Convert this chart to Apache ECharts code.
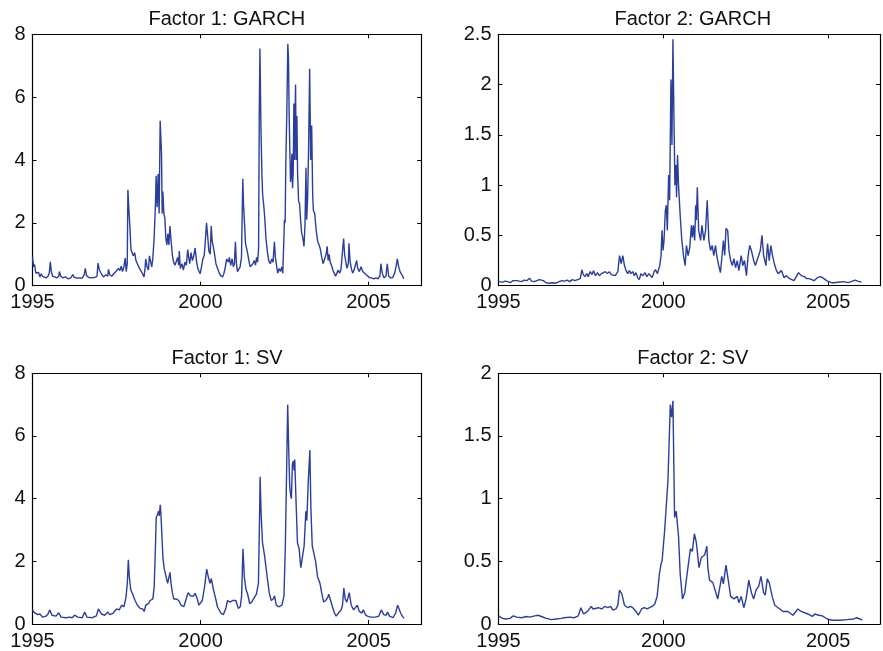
<!DOCTYPE html>
<html>
<head>
<meta charset="utf-8">
<script src="https://cdn.jsdelivr.net/npm/echarts@6/dist/echarts.min.js"></script>
<style>
html,body{margin:0;padding:0;background:#fff;}
#chart{width:883px;height:651px;}
</style>
</head>
<body>
<div id="chart"></div>
<script>
// ---------- data (decimal year, value) ----------
const titles = ['Factor 1: GARCH', 'Factor 2: GARCH', 'Factor 1: SV', 'Factor 2: SV'];
const xTicks = [1995, 2000, 2005];
const yMax = [8, 2.5, 8, 2];
const yStep = [2, 0.5, 2, 0.5];

const f1Garch = [[1995.00,0.92],[1995.03,0.60],[1995.06,0.68],[1995.10,0.40],[1995.14,0.35],[1995.18,0.42],[1995.22,0.28],[1995.26,0.38],[1995.30,0.30],[1995.34,0.32],[1995.40,0.25],[1995.46,0.30],[1995.50,0.40],[1995.53,0.76],[1995.56,0.45],[1995.60,0.30],[1995.66,0.28],[1995.72,0.25],[1995.78,0.30],[1995.80,0.45],[1995.84,0.30],[1995.90,0.25],[1995.98,0.28],[1996.06,0.22],[1996.14,0.25],[1996.20,0.35],[1996.24,0.27],[1996.32,0.24],[1996.40,0.25],[1996.48,0.24],[1996.54,0.35],[1996.57,0.55],[1996.61,0.32],[1996.68,0.26],[1996.76,0.25],[1996.84,0.26],[1996.92,0.30],[1996.95,0.72],[1996.99,0.50],[1997.05,0.38],[1997.11,0.28],[1997.18,0.35],[1997.24,0.30],[1997.26,0.52],[1997.30,0.35],[1997.36,0.30],[1997.42,0.38],[1997.48,0.45],[1997.52,0.40],[1997.56,0.55],[1997.60,0.48],[1997.64,0.62],[1997.68,0.45],[1997.72,0.60],[1997.76,0.88],[1997.79,0.45],[1997.82,0.70],[1997.84,3.05],[1997.87,2.40],[1997.90,1.85],[1997.93,1.15],[1997.96,1.20],[1998.00,0.95],[1998.04,1.05],[1998.08,0.80],[1998.12,0.75],[1998.16,0.60],[1998.20,0.58],[1998.24,0.45],[1998.28,0.40],[1998.32,0.28],[1998.35,0.55],[1998.37,0.85],[1998.41,0.60],[1998.45,0.50],[1998.48,0.95],[1998.52,0.75],[1998.55,0.60],[1998.58,0.85],[1998.62,1.50],[1998.66,2.60],[1998.68,3.50],[1998.71,2.50],[1998.74,3.55],[1998.77,2.30],[1998.80,5.25],[1998.84,4.20],[1998.86,2.30],[1998.88,3.00],[1998.91,2.30],[1998.94,2.15],[1998.97,1.50],[1999.00,1.30],[1999.03,1.65],[1999.06,1.30],[1999.09,1.90],[1999.12,1.50],[1999.16,1.00],[1999.20,0.75],[1999.24,0.65],[1999.28,0.60],[1999.32,0.90],[1999.35,0.65],[1999.37,1.10],[1999.40,0.55],[1999.45,0.70],[1999.49,0.50],[1999.54,0.75],[1999.58,0.65],[1999.62,1.15],[1999.65,0.90],[1999.68,0.70],[1999.72,1.05],[1999.76,0.80],[1999.80,0.95],[1999.84,1.20],[1999.88,0.80],[1999.92,0.55],[1999.96,0.45],[1999.99,0.38],[2000.03,0.60],[2000.07,0.85],[2000.11,0.95],[2000.14,1.35],[2000.18,2.00],[2000.22,1.50],[2000.25,1.10],[2000.29,1.00],[2000.32,1.90],[2000.35,1.40],[2000.38,1.25],[2000.42,1.00],[2000.46,0.70],[2000.51,0.55],[2000.56,0.40],[2000.60,0.32],[2000.66,0.28],[2000.70,0.40],[2000.74,0.60],[2000.78,0.85],[2000.83,0.75],[2000.86,0.90],[2000.90,0.65],[2000.94,0.85],[2000.98,0.60],[2001.01,0.70],[2001.04,1.40],[2001.07,0.70],[2001.10,0.45],[2001.14,0.40],[2001.18,0.60],[2001.22,0.90],[2001.26,3.40],[2001.28,2.60],[2001.31,2.00],[2001.34,1.35],[2001.37,1.20],[2001.40,1.05],[2001.44,0.80],[2001.48,0.60],[2001.52,0.55],[2001.56,0.70],[2001.60,0.80],[2001.64,0.65],[2001.67,0.90],[2001.70,0.75],[2001.73,1.20],[2001.75,5.50],[2001.77,7.55],[2001.80,5.00],[2001.83,3.50],[2001.85,2.90],[2001.88,2.60],[2001.91,2.20],[2001.95,1.50],[2001.99,1.10],[2002.03,0.80],[2002.08,0.70],[2002.12,0.85],[2002.16,0.75],[2002.20,1.40],[2002.23,0.90],[2002.27,0.60],[2002.30,0.40],[2002.34,0.55],[2002.38,0.45],[2002.42,0.60],[2002.45,0.40],[2002.48,1.40],[2002.50,2.10],[2002.52,2.00],[2002.54,3.90],[2002.57,5.50],[2002.60,7.70],[2002.62,7.20],[2002.64,5.40],[2002.66,4.30],[2002.68,3.30],[2002.70,3.50],[2002.72,4.20],[2002.74,3.10],[2002.76,3.60],[2002.78,5.80],[2002.80,4.00],[2002.83,6.40],[2002.85,4.00],[2002.87,5.40],[2002.89,3.60],[2002.92,2.70],[2002.95,2.60],[2002.98,2.10],[2003.01,1.70],[2003.05,1.50],[2003.08,1.25],[2003.11,1.90],[2003.14,3.75],[2003.16,2.10],[2003.19,2.80],[2003.22,4.50],[2003.25,6.90],[2003.28,4.00],[2003.31,5.10],[2003.34,2.90],[2003.36,2.40],[2003.40,2.30],[2003.44,1.80],[2003.49,1.40],[2003.53,1.30],[2003.56,1.20],[2003.61,0.90],[2003.65,0.70],[2003.70,0.75],[2003.74,1.00],[2003.77,1.25],[2003.80,0.80],[2003.83,1.00],[2003.86,0.75],[2003.90,0.65],[2003.94,0.50],[2003.98,0.40],[2004.02,0.30],[2004.06,0.40],[2004.10,0.50],[2004.14,0.40],[2004.18,0.50],[2004.22,0.55],[2004.26,1.50],[2004.29,1.00],[2004.32,0.80],[2004.36,0.55],[2004.40,0.70],[2004.42,1.35],[2004.45,0.80],[2004.49,0.55],[2004.53,0.40],[2004.57,0.50],[2004.62,0.45],[2004.65,0.80],[2004.68,0.55],[2004.73,0.45],[2004.78,0.60],[2004.83,0.45],[2004.88,0.40],[2004.93,0.35],[2004.98,0.30],[2005.04,0.25],[2005.10,0.25],[2005.16,0.22],[2005.22,0.25],[2005.28,0.22],[2005.34,0.30],[2005.37,0.70],[2005.41,0.40],[2005.46,0.25],[2005.52,0.30],[2005.56,0.70],[2005.60,0.30],[2005.66,0.25],[2005.72,0.25],[2005.78,0.40],[2005.82,0.60],[2005.86,0.85],[2005.90,0.60],[2005.94,0.45],[2005.98,0.40],[2006.02,0.30],[2006.05,0.22]];

const f2Garch = [[1995.00,0.04],[1995.06,0.05],[1995.12,0.035],[1995.20,0.045],[1995.28,0.04],[1995.36,0.03],[1995.44,0.05],[1995.50,0.065],[1995.56,0.05],[1995.62,0.06],[1995.70,0.04],[1995.78,0.055],[1995.86,0.05],[1995.94,0.075],[1996.00,0.045],[1996.08,0.04],[1996.16,0.05],[1996.24,0.06],[1996.30,0.07],[1996.36,0.05],[1996.44,0.03],[1996.54,0.025],[1996.64,0.03],[1996.74,0.025],[1996.84,0.04],[1996.92,0.05],[1997.00,0.045],[1997.08,0.055],[1997.16,0.04],[1997.24,0.06],[1997.32,0.05],[1997.40,0.06],[1997.48,0.07],[1997.53,0.16],[1997.57,0.11],[1997.62,0.09],[1997.68,0.12],[1997.72,0.09],[1997.78,0.14],[1997.84,0.11],[1997.88,0.15],[1997.94,0.10],[1998.00,0.13],[1998.06,0.10],[1998.12,0.12],[1998.18,0.11],[1998.24,0.14],[1998.30,0.12],[1998.36,0.14],[1998.42,0.11],[1998.48,0.12],[1998.54,0.10],[1998.62,0.14],[1998.67,0.30],[1998.72,0.22],[1998.77,0.30],[1998.82,0.20],[1998.87,0.15],[1998.92,0.12],[1998.97,0.15],[1999.02,0.12],[1999.07,0.14],[1999.12,0.10],[1999.17,0.13],[1999.22,0.08],[1999.27,0.06],[1999.32,0.12],[1999.38,0.10],[1999.44,0.13],[1999.50,0.09],[1999.56,0.12],[1999.61,0.10],[1999.66,0.08],[1999.72,0.14],[1999.76,0.16],[1999.82,0.12],[1999.86,0.13],[1999.89,0.20],[1999.93,0.30],[1999.96,0.55],[1999.99,0.35],[2000.02,0.45],[2000.06,0.75],[2000.09,0.80],[2000.12,0.55],[2000.16,1.10],[2000.19,0.85],[2000.23,2.05],[2000.26,1.40],[2000.29,2.45],[2000.32,1.70],[2000.35,1.00],[2000.38,1.20],[2000.40,0.88],[2000.43,1.30],[2000.46,1.00],[2000.51,0.70],[2000.56,0.45],[2000.61,0.30],[2000.66,0.20],[2000.70,0.40],[2000.75,0.30],[2000.80,0.38],[2000.85,0.60],[2000.88,0.48],[2000.91,0.60],[2000.95,0.45],[2000.98,0.80],[2001.00,0.65],[2001.03,0.98],[2001.07,0.55],[2001.13,0.45],[2001.17,0.60],[2001.23,0.45],[2001.28,0.55],[2001.33,0.85],[2001.38,0.45],[2001.43,0.35],[2001.48,0.40],[2001.53,0.30],[2001.58,0.40],[2001.63,0.28],[2001.68,0.20],[2001.73,0.13],[2001.78,0.30],[2001.82,0.45],[2001.86,0.30],[2001.90,0.57],[2001.95,0.55],[2001.99,0.35],[2002.04,0.25],[2002.09,0.20],[2002.14,0.27],[2002.19,0.18],[2002.24,0.25],[2002.29,0.15],[2002.36,0.30],[2002.41,0.20],[2002.46,0.25],[2002.52,0.10],[2002.57,0.30],[2002.62,0.40],[2002.67,0.35],[2002.74,0.25],[2002.79,0.20],[2002.84,0.25],[2002.89,0.30],[2002.94,0.35],[2002.99,0.50],[2003.04,0.30],[2003.11,0.20],[2003.16,0.42],[2003.21,0.25],[2003.26,0.40],[2003.31,0.30],[2003.38,0.20],[2003.43,0.15],[2003.48,0.12],[2003.53,0.12],[2003.58,0.15],[2003.66,0.08],[2003.73,0.10],[2003.83,0.07],[2003.96,0.05],[2004.10,0.13],[2004.18,0.10],[2004.28,0.09],[2004.35,0.07],[2004.42,0.07],[2004.50,0.06],[2004.57,0.05],[2004.67,0.08],[2004.72,0.07],[2004.77,0.09],[2004.87,0.07],[2004.95,0.05],[2005.02,0.04],[2005.10,0.03],[2005.17,0.03],[2005.30,0.035],[2005.47,0.04],[2005.60,0.03],[2005.70,0.04],[2005.81,0.055],[2005.90,0.045],[2006.01,0.035]];

const f1Sv = [[1995.00,0.45],[1995.04,0.38],[1995.08,0.33],[1995.15,0.30],[1995.22,0.32],[1995.30,0.22],[1995.40,0.25],[1995.46,0.32],[1995.51,0.45],[1995.58,0.28],[1995.70,0.25],[1995.78,0.36],[1995.85,0.22],[1996.00,0.20],[1996.10,0.22],[1996.18,0.20],[1996.25,0.28],[1996.35,0.22],[1996.48,0.20],[1996.55,0.38],[1996.62,0.22],[1996.78,0.20],[1996.90,0.26],[1996.96,0.48],[1997.05,0.32],[1997.15,0.28],[1997.24,0.38],[1997.30,0.30],[1997.40,0.35],[1997.50,0.48],[1997.58,0.45],[1997.65,0.60],[1997.72,0.55],[1997.78,0.85],[1997.82,1.30],[1997.85,2.05],[1997.88,1.50],[1997.92,1.10],[1997.98,0.95],[1998.05,0.75],[1998.12,0.60],[1998.20,0.50],[1998.28,0.48],[1998.32,0.40],[1998.37,0.60],[1998.45,0.65],[1998.50,0.75],[1998.58,0.80],[1998.62,1.20],[1998.65,2.20],[1998.68,3.40],[1998.72,3.50],[1998.75,3.60],[1998.77,3.45],[1998.80,3.80],[1998.82,3.50],[1998.85,2.80],[1998.88,2.10],[1998.92,1.75],[1998.96,1.70],[1999.02,1.30],[1999.05,1.45],[1999.09,1.65],[1999.12,1.30],[1999.16,1.00],[1999.20,0.80],[1999.28,0.80],[1999.35,0.75],[1999.42,0.60],[1999.50,0.55],[1999.57,0.80],[1999.63,1.00],[1999.70,0.90],[1999.78,0.88],[1999.84,0.98],[1999.90,0.80],[1999.95,0.60],[2000.00,0.55],[2000.05,0.75],[2000.12,1.20],[2000.18,1.75],[2000.24,1.45],[2000.28,1.30],[2000.32,1.45],[2000.38,1.10],[2000.45,0.80],[2000.50,0.55],[2000.60,0.35],[2000.68,0.30],[2000.75,0.50],[2000.80,0.75],[2000.88,0.70],[2000.95,0.75],[2001.00,0.70],[2001.05,0.75],[2001.12,0.50],[2001.18,0.55],[2001.22,0.90],[2001.26,2.40],[2001.30,1.50],[2001.35,1.10],[2001.40,0.95],[2001.46,0.65],[2001.52,0.70],[2001.60,0.85],[2001.66,0.95],[2001.72,1.30],[2001.75,3.20],[2001.77,4.70],[2001.80,3.50],[2001.84,2.60],[2001.90,2.20],[2001.98,1.50],[2002.04,1.00],[2002.10,0.75],[2002.16,0.80],[2002.20,0.90],[2002.25,0.60],[2002.32,0.55],[2002.42,0.60],[2002.48,0.90],[2002.52,2.50],[2002.56,5.00],[2002.59,7.00],[2002.62,5.60],[2002.65,4.40],[2002.68,4.10],[2002.70,4.00],[2002.73,5.10],[2002.76,5.20],[2002.78,4.90],[2002.80,5.25],[2002.83,4.20],[2002.88,2.60],[2002.93,2.40],[2002.98,1.80],[2003.02,1.80],[2003.08,2.50],[2003.13,3.60],[2003.16,3.30],[2003.20,4.50],[2003.25,5.55],[2003.28,3.70],[2003.32,2.50],[2003.38,2.20],[2003.42,2.00],[2003.48,1.50],[2003.55,1.30],[2003.60,1.00],[2003.66,0.70],[2003.72,0.75],[2003.78,0.85],[2003.81,0.95],[2003.88,0.70],[2003.92,0.55],[2003.98,0.35],[2004.03,0.25],[2004.10,0.35],[2004.18,0.45],[2004.22,0.60],[2004.26,1.15],[2004.30,0.80],[2004.35,0.70],[2004.42,1.00],[2004.48,0.60],[2004.55,0.45],[2004.60,0.40],[2004.66,0.60],[2004.72,0.40],[2004.80,0.35],[2004.84,0.45],[2004.90,0.30],[2004.96,0.25],[2005.05,0.22],[2005.20,0.22],[2005.30,0.25],[2005.37,0.45],[2005.45,0.30],[2005.52,0.28],[2005.56,0.38],[2005.62,0.25],[2005.72,0.20],[2005.80,0.35],[2005.86,0.60],[2005.90,0.55],[2005.95,0.35],[2006.00,0.25],[2006.05,0.18]];

const f2Sv = [[1995.00,0.065],[1995.05,0.05],[1995.12,0.045],[1995.22,0.04],[1995.35,0.045],[1995.45,0.065],[1995.55,0.055],[1995.70,0.05],[1995.85,0.06],[1995.95,0.055],[1996.10,0.065],[1996.20,0.07],[1996.30,0.06],[1996.45,0.045],[1996.60,0.035],[1996.75,0.04],[1996.90,0.045],[1997.00,0.05],[1997.15,0.055],[1997.30,0.05],[1997.42,0.065],[1997.50,0.13],[1997.58,0.08],[1997.65,0.09],[1997.73,0.11],[1997.81,0.14],[1997.87,0.12],[1997.93,0.11],[1998.03,0.13],[1998.13,0.12],[1998.22,0.14],[1998.32,0.13],[1998.40,0.14],[1998.47,0.11],[1998.56,0.12],[1998.62,0.15],[1998.67,0.27],[1998.74,0.24],[1998.82,0.15],[1998.92,0.13],[1999.00,0.14],[1999.07,0.13],[1999.17,0.10],[1999.24,0.07],[1999.34,0.12],[1999.42,0.13],[1999.51,0.12],[1999.58,0.13],[1999.66,0.14],[1999.74,0.16],[1999.81,0.22],[1999.88,0.40],[1999.93,0.48],[1999.96,0.50],[2000.04,0.75],[2000.14,1.15],[2000.21,1.75],[2000.25,1.65],[2000.29,1.78],[2000.34,0.85],[2000.39,0.90],[2000.46,0.70],[2000.51,0.40],[2000.58,0.20],[2000.65,0.25],[2000.72,0.40],[2000.82,0.60],[2000.88,0.58],[2000.94,0.72],[2001.00,0.65],[2001.03,0.65],[2001.08,0.45],[2001.15,0.53],[2001.25,0.55],[2001.32,0.62],[2001.35,0.45],[2001.40,0.35],[2001.50,0.33],[2001.65,0.20],[2001.77,0.38],[2001.82,0.32],[2001.90,0.47],[2001.94,0.40],[2002.04,0.22],[2002.14,0.20],[2002.24,0.22],[2002.29,0.17],[2002.36,0.22],[2002.44,0.13],[2002.51,0.20],[2002.59,0.35],[2002.67,0.25],[2002.74,0.20],[2002.81,0.27],[2002.89,0.30],[2002.96,0.38],[2003.04,0.25],[2003.09,0.23],[2003.15,0.36],[2003.21,0.33],[2003.30,0.22],[2003.38,0.15],[2003.53,0.12],[2003.63,0.10],[2003.78,0.10],[2003.93,0.07],[2004.08,0.12],[2004.18,0.10],[2004.38,0.08],[2004.52,0.06],[2004.59,0.08],[2004.72,0.07],[2004.82,0.065],[2004.97,0.04],[2005.12,0.03],[2005.37,0.03],[2005.57,0.035],[2005.78,0.04],[2005.86,0.05],[2005.96,0.04],[2006.03,0.03]];

const seriesData = [f1Garch, f2Garch, f1Sv, f2Sv];

// ---------- layout ----------
const grids = [
  {left: 32.5, top: 34.3, width: 388.7, height: 251.4},
  {left: 498.5, top: 34.3, width: 388.7, height: 251.4},
  {left: 32.5, top: 373.3, width: 389, height: 251},
  {left: 498.5, top: 373.3, width: 388.7, height: 251}
];
const titleTops = [9, 9, 348, 348];
const FONT = 'Liberation Sans, Arial, Helvetica, sans-serif';
const LINE = '#2b3e9e';

const xAxes = [], yAxes = [], series = [], title = [];
grids.forEach((g, i) => {
  const tickCfg = {show: true, inside: true, length: 4, lineStyle: {color: '#000', width: 1}};
  const axisLineCfg = {show: true, onZero: false, lineStyle: {color: '#000', width: 1.2}};
  const xBase = {gridIndex: i, type: 'value', min: 1995, max: 2006.57, interval: 5,
    splitLine: {show: false}, axisLine: axisLineCfg, axisTick: tickCfg};
  xAxes.push(Object.assign({}, xBase, {position: 'bottom',
    axisLabel: {show: true, margin: 7, color: '#111', fontSize: 20, fontFamily: FONT,
      formatter: v => (xTicks.indexOf(Math.round(v * 1000) / 1000) >= 0 ? String(v) : '')}}));
  xAxes.push(Object.assign({}, xBase, {position: 'top', axisLabel: {show: false}}));
  const yBase = {gridIndex: i, type: 'value', min: 0, max: yMax[i], interval: yStep[i],
    splitLine: {show: false}, axisLine: axisLineCfg, axisTick: tickCfg};
  yAxes.push(Object.assign({}, yBase, {position: 'left',
    axisLabel: {show: true, margin: 7, color: '#111', fontSize: 20, fontFamily: FONT}}));
  yAxes.push(Object.assign({}, yBase, {position: 'right', axisLabel: {show: false}}));
  series.push({type: 'line', xAxisIndex: 2 * i, yAxisIndex: 2 * i, data: seriesData[i],
    showSymbol: false, symbol: 'none', lineStyle: {color: LINE, width: 1.4}, animation: false});
  title.push({text: titles[i], left: g.left + g.width / 2, top: titleTops[i], textAlign: 'center', padding: 0,
    textStyle: {fontSize: 20, fontWeight: 'normal', color: '#111', fontFamily: FONT}});
});

const chart = echarts.init(document.getElementById('chart'), null, {renderer: 'canvas'});
chart.setOption({
  animation: false,
  backgroundColor: '#fff',
  title: title,
  grid: grids.map(g => Object.assign({containLabel: false}, g)),
  xAxis: xAxes,
  yAxis: yAxes,
  series: series
});
</script>
</body>
</html>
